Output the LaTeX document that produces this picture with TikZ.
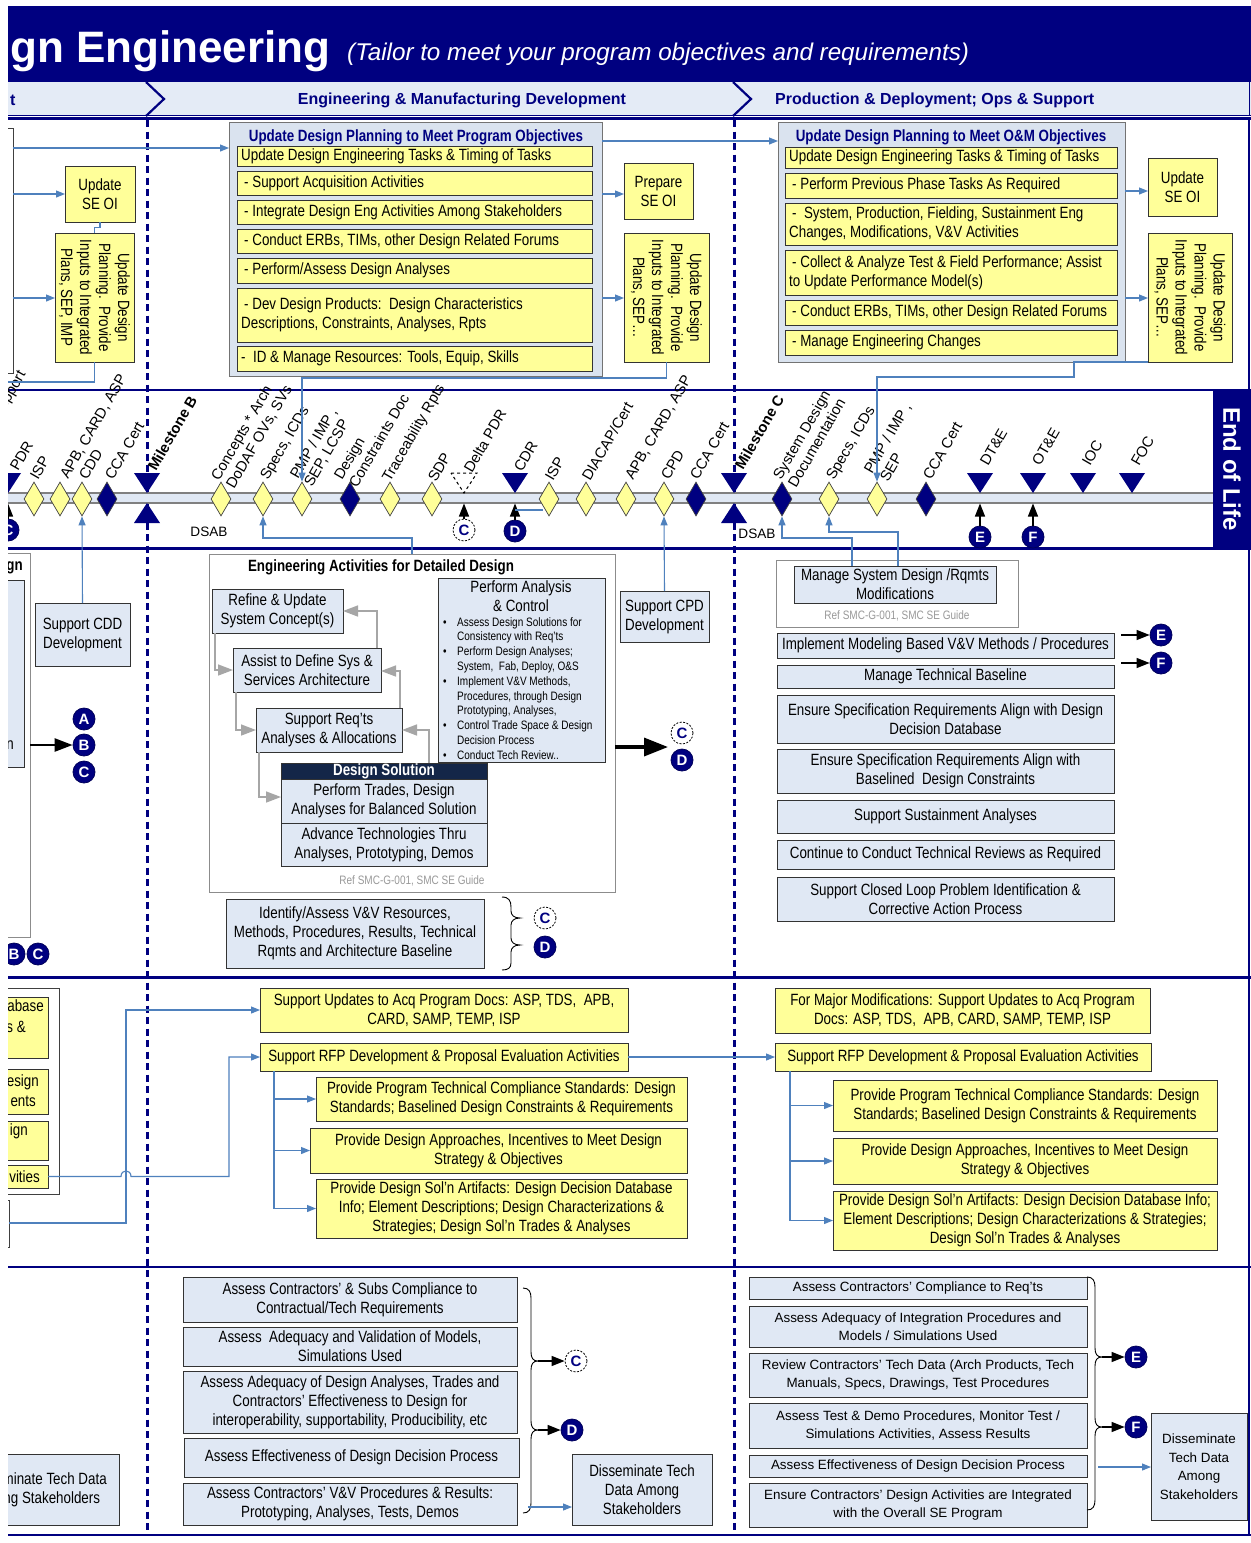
\documentclass[tikz,border=0pt]{standalone}
\usepackage{fontspec}
\setmainfont{Liberation Sans}
\newfontfamily\nar[FakeStretch=0.82]{Liberation Sans}
\usetikzlibrary{shapes.geometric,arrows.meta}
\definecolor{navy}{RGB}{0,0,128}
\definecolor{yel}{RGB}{255,255,153}
\definecolor{lb}{RGB}{224,232,244}
\definecolor{bigf}{RGB}{218,227,239}
\definecolor{cb}{RGB}{79,129,189}
\definecolor{dsn}{RGB}{20,38,72}
\definecolor{phase}{RGB}{228,235,246}
\newcommand{\fB}{\nar\fontsize{16.3}{19}\selectfont}
\newcommand{\fR}{\fontsize{13.4}{18.5}\selectfont}
\newcommand{\fL}{\fontsize{14.8}{17}\selectfont}
\newcommand{\fS}{\nar\fontsize{12.2}{14.8}\selectfont}
\newcommand{\bx}[7]{%
 \pgfmathsetmacro\bxw{(#5)-(#3)}\pgfmathsetmacro\bxh{(#6)-(#4)}%
 \pgfmathsetmacro\bxx{((#3)+(#5))/2}\pgfmathsetmacro\bxy{((#4)+(#6))/2}%
 \node[#2,minimum width=\bxw pt,minimum height=\bxh pt] (#1) at (\bxx,\bxy) {#7};}
\newcommand{\rbx}[6]{%
 \bx{#1}{ybox}{#2}{#3}{#4}{#5}{}%
 \node[font=\fB,align=left,anchor=west,inner sep=0pt] at ([xshift=4pt]#1.west) {#6};}
\newcommand{\mlab}[3]{\node[lbl] at (#1,#2) {#3};}
\begin{document}
\begin{tikzpicture}[x=1pt,y=-1pt,
 ybox/.style={draw=black!80,fill=yel,line width=0.9pt,inner sep=0pt,outer sep=0pt,font=\fB,align=center},
 lbox/.style={draw=black!80,fill=lb,line width=0.9pt,inner sep=0pt,outer sep=0pt,font=\fB,align=center},
 rbox/.style={lbox,font=\fR},
 wbox/.style={draw=black!45,fill=white,line width=0.8pt,inner sep=0pt,outer sep=0pt},
 bigbox/.style={draw=black!55,fill=bigf,line width=1pt,inner sep=0pt,outer sep=0pt},
 btitle/.style={font=\nar\bfseries\fontsize{16.3}{19}\selectfont,text=navy,inner sep=0pt},
 phs/.style={font=\bfseries\fontsize{16}{18}\selectfont,text=navy,inner sep=0pt},
 barrow/.style={draw=cb,line width=1.1pt,-{Triangle[length=9pt,width=7pt]}},
 bline/.style={draw=cb,line width=1.1pt},
 garrow/.style={draw=black!35,line width=1.5pt,-{Triangle[length=15pt,width=11pt]}},
 karrow/.style={draw=black,line width=1.3pt,-{Triangle[length=13pt,width=10pt]}},
 circN/.style={circle,fill=navy,draw=navy!70!black,line width=0.8pt,text=white,font=\bfseries\fontsize{15}{15}\selectfont,minimum size=22pt,inner sep=0pt},
 circD/.style={circle,fill=white,draw=black,line width=0.8pt,dash pattern=on 2pt off 1.5pt,text=navy,font=\bfseries\fontsize{15}{15}\selectfont,minimum size=22pt,inner sep=0pt},
 lbl/.style={rotate=60,anchor=base west,inner sep=0pt,font=\fL},
 dia/.style={diamond,draw=black!75,line width=0.7pt,minimum width=20pt,minimum height=34pt,inner sep=0pt},
 sepline/.style={draw=navy,line width=2.5pt},
 vdot/.style={draw=navy,line width=3pt,dash pattern=on 7pt off 4.5pt},
 reft/.style={font=\fS,text=black!40,inner sep=0pt},
 ptxt/.style={font=\fB,anchor=east,inner sep=0pt},
 rtxt/.style={rotate=-90,font=\fB,align=center,inner sep=0pt}]
\useasboundingbox (0,0) rectangle (1251,1543);
\fill[white] (0,0) rectangle (1251,1543);
\begin{scope}
\clip (8,0) rectangle (1251,1543);
% ---------------- header
\fill[navy] (8,6) rectangle (1251,82);
\node[anchor=base west,text=white,font=\bfseries\fontsize{44}{44}\selectfont,inner sep=0pt] (ttl) at (10,62) {gn Engineering};
\node[anchor=base west,text=white,font=\itshape\fontsize{24.2}{26}\selectfont,inner sep=0pt] (sub) at (347,60) {(Tailor to meet your program objectives and requirements)};
\fill[phase] (8,82) rectangle (1251,115);
\draw[navy,line width=1pt] (8,115.5) -- (1251,115.5);
\draw[navy,line width=1pt] (1249,82) -- (1249,116);
\draw[navy,line width=2.2pt] (146,82) -- (164,99) -- (146,116);
\draw[navy,line width=2.2pt] (733,82) -- (751,99) -- (733,116);
\node[phs,anchor=west] (p0) at (10,100) {t};
\node[phs] (p1) at (462,100) {Engineering \& Manufacturing Development};
\node[phs,anchor=west] (p2) at (775,100) {Production \& Deployment; Ops \& Support};
% ---------------- frame lines
\draw[sepline] (8,118.5) -- (1251,118.5);
\draw[sepline] (8,390) -- (1251,390);
\draw[sepline] (8,548.5) -- (1251,548.5);
\draw[sepline] (8,977.5) -- (1251,977.5);
\draw[sepline] (8,1267) -- (1251,1267);
\draw[sepline] (8,1535) -- (1251,1535);
\draw[navy,line width=1.2pt] (1249,118) -- (1249,1535);
\draw[vdot] (147,120) -- (147,1533);
\draw[vdot] (734,120) -- (734,1533);
% ---------------- milestone band
\fill[lb] (8,493) rectangle (1213,503);
\draw[black!50,line width=1.3pt] (8,493) -- (1213,493);
\draw[black!50,line width=1.3pt] (8,503) -- (1213,503);
\foreach \x in {34,60,82,221,263,302,390,432,549,586,626,664,829,877}
  \node[dia,fill=yel] (d\x) at (\x,499) {};
\foreach \x in {107,350,696,782,926}
  \node[dia,fill=navy] (d\x) at (\x,499) {};
\foreach \x in {8,147,515,734,980,1033,1083,1132}
  \fill[navy] ({\x-13},473) -- ({\x+13},473) -- (\x,493) -- cycle;
\foreach \x in {147,734}
  \fill[navy] ({\x-13},523) -- ({\x+13},523) -- (\x,503) -- cycle;
\draw[black,line width=1pt,dashed] (451,473) -- (477,473) -- (464,493) -- cycle;
\node[lbl,anchor=base east] at (26,374) {Support};
\mlab{18}{472}{PDR}
\mlab{38}{481}{ISP}
\mlab{68}{480}{APB, CARD, ASP}
\mlab{87}{481}{CDD}
\mlab{113}{481}{CCA Cert}
\node[lbl,font=\bfseries\fontsize{14.8}{17}\selectfont] at (156,472) {Milestone B};
\mlab{219}{482}{Concepts * Arch}
\mlab{234}{490}{DoDAF OVs, SVs}
\mlab{268}{481}{Specs, ICDs}
\mlab{298}{480}{PMP / IMP ,}
\mlab{312}{488}{SEP, LCSP}
\mlab{342}{481}{Design}
\mlab{357}{489}{Constraints Doc}
\mlab{390}{483}{Traceability Rpts}
\mlab{436}{483}{SDP}
\mlab{472}{474}{Delta PDR}
\mlab{522}{473}{CDR}
\mlab{553}{482}{ISP}
\mlab{590}{482}{DIACAP/Cert}
\mlab{633}{481}{APB, CARD, ASP}
\mlab{669}{481}{CPD}
\mlab{698}{481}{CCA Cert}
\node[lbl,font=\bfseries\fontsize{14.8}{17}\selectfont] at (743,471) {Milestone C};
\mlab{781}{481}{System Design}
\mlab{796}{489}{Documentation}
\mlab{834}{481}{Specs, ICDs}
\mlab{872}{475}{PMP / IMP ,}
\mlab{888}{483}{SEP}
\mlab{931}{481}{CCA Cert}
\mlab{988}{467}{DT\&E}
\mlab{1040}{467}{OT\&E}
\mlab{1090}{467}{IOC}
\mlab{1139}{467}{FOC}
\node[font=\fontsize{13.6}{14}\selectfont,inner sep=0pt] (dsab1) at (209,532) {DSAB};
\node[font=\fontsize{13.6}{14}\selectfont,inner sep=0pt] (dsab2) at (757,534) {DSAB};
\node[circN] (cC0) at (8,530) {C};
\node[circD] (cC1) at (464,530) {C};
\node[circN] (cD1) at (515,531) {D};
\node[circN] (cE1) at (980,537) {E};
\node[circN] (cF1) at (1033,537) {F};
\foreach \n in {cC0,cC1,cD1,cE1,cF1}
  \draw[karrow] (\n.north) -- (\n.north |- 0,503.5);
\draw[bline] (515,510) -- (543,510);
\fill[navy] (1213,390) rectangle (1251,548);
\node[rotate=-90,text=white,font=\bfseries\fontsize{24}{24}\selectfont,inner sep=0pt] (eol) at (1232,469) {End of Life};
% ---------------- section 1
\bx{lp1}{wbox,draw=black!75}{-20}{128}{13}{373}{}
\bx{seoi1}{ybox}{65}{166}{135}{222}{Update\\SE OI}
\bx{rot1}{ybox}{55}{233}{134}{362}{}
\node[rtxt] (rot1t) at (rot1.center) {Update Design\\Planning.\ \ Provide\\Inputs to Integrated\\Plans, SEP, IMP};
\bx{bigA}{bigbox}{229}{122}{602}{376}{}
\node[btitle] (bigAt) at (416,137) {Update Design Planning to Meet Program Objectives};
\rbx{a1}{237}{146}{592}{166}{Update Design Engineering Tasks \& Timing of Tasks}
\rbx{a2}{237}{171}{592}{195}{\hspace*{3pt}- Support Acquisition Activities}
\rbx{a3}{237}{200}{592}{224}{\hspace*{3pt}- Integrate Design Eng Activities Among Stakeholders}
\rbx{a4}{237}{229}{592}{253}{\hspace*{3pt}- Conduct ERBs, TIMs, other Design Related Forums}
\rbx{a5}{237}{258}{592}{283}{\hspace*{3pt}- Perform/Assess Design Analyses}
\rbx{a6}{237}{288}{592}{342}{\hspace*{3pt}- Dev Design Products:\ \ Design Characteristics\\Descriptions, Constraints, Analyses, Rpts}
\rbx{a7}{237}{346}{592}{371}{-\ \ ID \& Manage Resources: Tools, Equip, Skills}
\bx{prep}{ybox}{624}{163}{693}{219}{Prepare\\SE OI}
\bx{rot2}{ybox}{624}{233}{709}{362}{}
\node[rtxt] (rot2t) at (rot2.center) {Update Design\\Planning.\ \ Provide\\Inputs to Integrated\\Plans, SEP…};
\bx{bigB}{bigbox}{778}{122}{1125}{362}{}
\node[btitle] (bigBt) at (951,137) {Update Design Planning to Meet O\&M Objectives};
\rbx{b1}{785}{147}{1117}{168}{Update Design Engineering Tasks \& Timing of Tasks}
\rbx{b2}{785}{173}{1117}{198}{\hspace*{3pt}- Perform Previous Phase Tasks As Required}
\rbx{b3}{785}{203}{1117}{245}{\hspace*{3pt}-\ \ System, Production, Fielding, Sustainment Eng\\Changes, Modifications, V\&V Activities}
\rbx{b4}{785}{250}{1117}{295}{\hspace*{3pt}- Collect \& Analyze Test \& Field Performance; Assist\\to Update Performance Model(s)}
\rbx{b5}{785}{300}{1117}{325}{\hspace*{3pt}- Conduct ERBs, TIMs, other Design Related Forums}
\rbx{b6}{785}{330}{1117}{355}{\hspace*{3pt}- Manage Engineering Changes}
\bx{seoi2}{ybox}{1148}{158}{1217}{216}{Update\\SE OI}
\bx{rot3}{ybox}{1148}{233}{1232}{362}{}
\node[rtxt] (rot3t) at (rot3.center) {Update Design\\Planning.\ \ Provide\\Inputs to Integrated\\Plans, SEP…};
% ---------------- section 3
\bx{lp3}{wbox}{-20}{553}{30}{937}{}
\bx{lp3b}{lbox}{-20}{580}{24}{767}{}
\node[font=\nar\bfseries\fontsize{16.3}{19}\selectfont,anchor=east,inner sep=0pt] (lp3t) at (23,568) {gn};
\node[ptxt] (lp3n) at (14,745) {n};
\node[circN] (cA3) at (84,719) {A};
\node[circN] (cB3) at (84,745) {B};
\node[circN] (cC3) at (84,772) {C};
\node[circN] (cB3b) at (14,954) {B};
\node[circN] (cC3b) at (38,954) {C};
\bx{cdd}{lbox}{35}{603}{130}{666}{Support CDD\\Development}
\bx{eng}{wbox}{209}{554}{615}{892}{}
\node[btitle,text=black] (engt) at (381,567) {Engineering Activities for Detailed Design};
\bx{refine}{lbox}{212}{589}{343}{633}{Refine \& Update\\System Concept(s)}
\bx{assist}{lbox}{233}{648}{381}{692}{Assist to Define Sys \&\\Services Architecture}
\bx{supreq}{lbox}{256}{708}{402}{752}{Support Req’ts\\Analyses \& Allocations}
\bx{dshead}{lbox,fill=dsn,text=white,font=\nar\bfseries\fontsize{16.3}{19}\selectfont}{281}{763}{487}{779}{Design Solution}
\bx{ds1}{lbox}{281}{779}{487}{823}{Perform Trades, Design\\Analyses for Balanced Solution}
\bx{ds2}{lbox}{281}{823}{487}{866}{Advance Technologies Thru\\Analyses, Prototyping, Demos}
\bx{pac}{lbox}{438}{578}{605}{762}{}
\node[font=\fB,align=center,inner sep=0pt] (pact) at (521,596) {Perform Analysis\\\& Control};
\node[font=\fS,align=left,anchor=north west,inner sep=0pt] (pacl) at (443,617) {%
\makebox[14pt][l]{\textbullet}Assess Design Solutions for\\
\hspace*{14pt}Consistency with Req’ts\\
\makebox[14pt][l]{\textbullet}Perform Design Analyses;\\
\hspace*{14pt}System,\ \ Fab, Deploy, O\&S\\
\makebox[14pt][l]{\textbullet}Implement V\&V Methods,\\
\hspace*{14pt}Procedures, through Design\\
\hspace*{14pt}Prototyping, Analyses,\\
\makebox[14pt][l]{\textbullet}Control Trade Space \& Design\\
\hspace*{14pt}Decision Process\\
\makebox[14pt][l]{\textbullet}Conduct Tech Review..};
\node[reft] (ref1) at (412,881) {Ref SMC-G-001, SMC SE Guide};
\node[circD] (cC3r) at (682,733) {C};
\node[circN] (cD3r) at (682,760) {D};
\bx{idvv}{lbox}{226}{899}{484}{968}{Identify/Assess V\&V Resources,\\Methods, Procedures, Results, Technical\\Rqmts and Architecture Baseline}
\draw[black,line width=0.9pt] (502,897) .. controls (509,897) and (511,901) .. (511,907) -- (511,911) .. controls (511,915) and (514,918) .. (520,918) .. controls (514,918) and (511,921) .. (511,925) -- (511,938) .. controls (511,942) and (514,945) .. (520,945) .. controls (514,945) and (511,948) .. (511,952) -- (511,963) .. controls (511,968) and (508,970) .. (502,970);
\node[circD] (cC3i) at (545,918) {C};
\node[circN] (cD3i) at (545,947) {D};
\bx{cpd}{lbox}{620}{591}{709}{642}{Support CPD\\Development}
\bx{msdo}{wbox}{776}{560}{1018}{627}{}
\bx{msdi}{lbox}{794}{566}{996}{603}{Manage System Design /Rqmts\\Modifications}
\node[reft] (ref2) at (897,616) {Ref SMC-G-001, SMC SE Guide};
\bx{r1}{lbox}{777}{633}{1114}{658}{Implement Modeling Based V\&V Methods / Procedures}
\bx{r2}{lbox}{777}{665}{1114}{688}{Manage Technical Baseline}
\bx{r3}{lbox}{777}{695}{1114}{743}{Ensure Specification Requirements Align with Design\\Decision Database}
\bx{r4}{lbox}{777}{749}{1114}{793}{Ensure Specification Requirements Align with\\Baselined\ \ Design Constraints}
\bx{r5}{lbox}{777}{800}{1114}{833}{Support Sustainment Analyses}
\bx{r6}{lbox}{777}{840}{1114}{869}{Continue to Conduct Technical Reviews as Required}
\bx{r7}{lbox}{777}{877}{1114}{921}{Support Closed Loop Problem Identification \&\\Corrective Action Process}
\node[circN] (cE3) at (1161,635) {E};
\node[circN] (cF3) at (1161,663) {F};
% ---------------- section 4
\bx{lp4}{wbox,draw=black!75}{-20}{988}{59}{1194}{}
\bx{lp4a}{ybox}{-20}{997}{48}{1058}{}
\bx{lp4b}{ybox}{-20}{1069}{48}{1114}{}
\bx{lp4c}{ybox}{-20}{1121}{48}{1160}{}
\bx{lp4d}{ybox}{-20}{1165}{48}{1188}{}
\bx{lp4e}{wbox,draw=black!75}{-20}{1200}{9}{1247}{}
\node[ptxt] at (44,1006) {abase};
\node[ptxt] at (26,1027) {s \&};
\node[ptxt] at (39,1082) {esign};
\node[ptxt] at (36,1101) {ents};
\node[ptxt] at (28,1131) {ign};
\node[ptxt] at (40,1177) {vities};
\bx{su}{ybox}{260}{988}{628}{1032}{Support Updates to Acq Program Docs: ASP, TDS,\ \ APB,\\CARD, SAMP, TEMP, ISP}
\bx{rfp1}{ybox}{260}{1043}{628}{1071}{Support RFP Development \& Proposal Evaluation Activities}
\bx{A1}{ybox}{316}{1077}{687}{1121}{Provide Program Technical Compliance Standards: Design\\Standards; Baselined Design Constraints \& Requirements}
\bx{A2}{ybox}{310}{1128}{687}{1173}{Provide Design Approaches, Incentives to Meet Design\\Strategy \& Objectives}
\bx{A3}{ybox}{316}{1179}{687}{1238}{Provide Design Sol’n Artifacts: Design Decision Database\\Info; Element Descriptions; Design Characterizations \&\\Strategies; Design Sol’n Trades \& Analyses}
\bx{fm}{ybox}{775}{988}{1150}{1033}{For Major Modifications: Support Updates to Acq Program\\Docs: ASP, TDS,\ \ APB, CARD, SAMP, TEMP, ISP}
\bx{rfp2}{ybox}{775}{1043}{1151}{1071}{Support RFP Development \& Proposal Evaluation Activities}
\bx{B1}{ybox}{833}{1080}{1217}{1131}{Provide Program Technical Compliance Standards: Design\\Standards; Baselined Design Constraints \& Requirements}
\bx{B2}{ybox}{833}{1138}{1217}{1184}{Provide Design Approaches, Incentives to Meet Design\\Strategy \& Objectives}
\bx{B3}{ybox}{833}{1191}{1217}{1250}{Provide Design Sol’n Artifacts: Design Decision Database Info;\\Element Descriptions; Design Characterizations \& Strategies;\\Design Sol’n Trades \& Analyses}
% ---------------- section 5
\bx{lp5}{lbox}{-43}{1454}{119}{1525}{Disseminate Tech Data\\Among Stakeholders}
\bx{C1}{lbox}{183}{1277}{517}{1322}{Assess Contractors’ \& Subs Compliance to\\Contractual/Tech Requirements}
\bx{C2}{lbox}{183}{1327}{517}{1366}{Assess\ \ Adequacy and Validation of Models,\\Simulations Used}
\bx{C3}{lbox}{183}{1371}{517}{1433}{Assess Adequacy of Design Analyses, Trades and\\Contractors’ Effectiveness to Design for\\interoperability, supportability, Producibility, etc}
\bx{C4}{lbox}{184}{1438}{519}{1477}{Assess Effectiveness of Design Decision Process}
\bx{C5}{lbox}{183}{1483}{517}{1525}{Assess Contractors’ V\&V Procedures \& Results:\\Prototyping, Analyses, Tests, Demos}
\draw[black,line width=0.9pt] (523,1288) .. controls (529,1288) and (531,1292) .. (531,1298) -- (531,1352) .. controls (531,1358) and (533,1361) .. (538,1361) .. controls (533,1361) and (531,1364) .. (531,1370) -- (531,1421) .. controls (531,1427) and (533,1430) .. (538,1430) .. controls (533,1430) and (531,1433) .. (531,1439) -- (531,1503) .. controls (531,1509) and (529,1513) .. (523,1513);
\node[circD] (cC5) at (576,1361) {C};
\node[circN] (cD5) at (572,1430) {D};
\bx{dis1}{lbox}{572}{1454}{712}{1525}{Disseminate Tech\\Data Among\\Stakeholders}
\bx{D1}{rbox}{749}{1277}{1087}{1299}{Assess Contractors’ Compliance to Req’ts}
\bx{D2}{rbox}{749}{1306}{1087}{1347}{Assess Adequacy of Integration Procedures and\\Models / Simulations Used}
\bx{D3}{rbox}{749}{1353}{1087}{1397}{Review Contractors’ Tech Data (Arch Products, Tech\\Manuals, Specs, Drawings, Test Procedures}
\bx{D4}{rbox}{749}{1403}{1087}{1448}{Assess Test \& Demo Procedures, Monitor Test /\\Simulations Activities, Assess Results}
\bx{D5}{rbox}{749}{1455}{1087}{1477}{Assess Effectiveness of Design Decision Process}
\bx{D6}{rbox}{749}{1483}{1087}{1527}{Ensure Contractors’ Design Activities are Integrated\\with the Overall SE Program}
\draw[black,line width=0.9pt] (1087,1277) .. controls (1093,1277) and (1095,1281) .. (1095,1287) -- (1095,1348) .. controls (1095,1354) and (1097,1357) .. (1102,1357) .. controls (1097,1357) and (1095,1360) .. (1095,1366) -- (1095,1418) .. controls (1095,1424) and (1097,1427) .. (1102,1427) .. controls (1097,1427) and (1095,1430) .. (1095,1436) -- (1095,1500) .. controls (1095,1506) and (1093,1510) .. (1087,1510);
\node[circN] (cE5) at (1136,1357) {E};
\node[circN] (cF5) at (1136,1427) {F};
\bx{dis2}{rbox}{1151}{1413}{1247}{1520}{Disseminate\\Tech Data\\Among\\Stakeholders}
% ---------------- connectors
\draw[barrow] (lp1.east |- 0,148) -- (bigA.west |- 0,148);
\draw[barrow] (lp1.east |- 0,194) -- (seoi1.west |- 0,194);
\draw[barrow] (lp1.east |- 0,298) -- (rot1.west |- 0,298);
\draw[bline] (seoi1.south) -- ++(0,5.5) -| (rot1.north);
\draw[bline] (rot1.south) -- ++(0,20) -- (0,382);
\draw[barrow] (bigA.east |- 0,194) -- (prep.west |- 0,194);
\draw[barrow] (bigA.east |- 0,298) -- (rot2.west |- 0,298);
\draw[barrow] (bigA.east |- 0,141) -- (bigB.west |- 0,141);
\draw[barrow] (bigB.east |- 0,191) -- (seoi2.west |- 0,191);
\draw[barrow] (bigB.east |- 0,298) -- (rot3.west |- 0,298);
\draw[barrow] (rot2.south) -- ++(0,16) -| (d302.north);
\draw[barrow] (rot3.south west) -- (1074,362) -- (1074,377) -| (d877.north);
\draw[barrow] (cdd.north) -- (d82.south);
\draw[barrow] (eng.north -| 412,0) -- (412,538) -| (d263.south);
\draw[barrow] (cpd.north) -- (d664.south);
\draw[barrow] (msdi.north -| 852,0) -- (852,538) -| (d782.south);
\draw[barrow] (msdi.north -| 898,0) -- (898,532) -| (d829.south);
\draw[garrow] (assist.north -| 377,0) -- (377,611) -- (refine.east |- 0,611);
\draw[garrow] (refine.south -| 215,0) -- (215,670) -- (assist.west |- 0,670);
\draw[garrow] (supreq.north -| 400,0) -- (400,671) -- (assist.east |- 0,671);
\draw[garrow] (assist.south -| 236,0) -- (236,730) -- (supreq.west |- 0,730);
\draw[garrow] (dshead.north -| 429,0) -- (429,730) -- (supreq.east |- 0,730);
\draw[garrow] (supreq.south -| 259,0) -- (259,797) -- (ds1.west |- 0,797);
\draw[black,line width=2.5pt,-{Triangle[length=18pt,width=13pt]}] (lp3.east |- 0,745) -- (cB3.west);
\draw[black,line width=3.5pt,-{Triangle[length=24pt,width=18pt]}] (eng.east |- 0,747) -- (668,747);
\draw[karrow] (r1.east |- 0,635) ++(7,0) -- (cE3.west);
\draw[karrow] (r1.east |- 0,663) ++(7,0) -- (cF3.west);
\draw[barrow] (lp4d.east) -- (121,1176.5) .. controls (121,1169) and (131,1169) .. (131,1176.5) -- (229,1176.5) |- (rfp1.west);
\draw[barrow] (lp4e.east |- 0,1223) -- (126,1223) |- (su.west);
\draw[barrow] (rfp1.east) -- (rfp2.west);
\draw[bline] (rfp1.south -| 274,0) -- (274,1208.5);
\draw[barrow] (274,1099) -- (A1.west);
\draw[barrow] (274,1150.5) -- (A2.west);
\draw[barrow] (274,1208.5) -- (A3.west);
\draw[bline] (rfp2.south -| 790,0) -- (790,1220.5);
\draw[barrow] (790,1105.5) -- (B1.west);
\draw[barrow] (790,1161) -- (B2.west);
\draw[barrow] (790,1220.5) -- (B3.west);
\draw[karrow] (538,1361) -- (cC5.west);
\draw[karrow] (538,1430) -- (cD5.west);
\draw[karrow] (1102,1357) -- (cE5.west);
\draw[karrow] (1102,1427) -- (cF5.west);
\draw[barrow] (528,1507) -- (dis1.west |- 0,1507);
\draw[barrow] (1098,1467) -- (dis2.west |- 0,1467);
\end{scope}
\end{tikzpicture}
\end{document}
